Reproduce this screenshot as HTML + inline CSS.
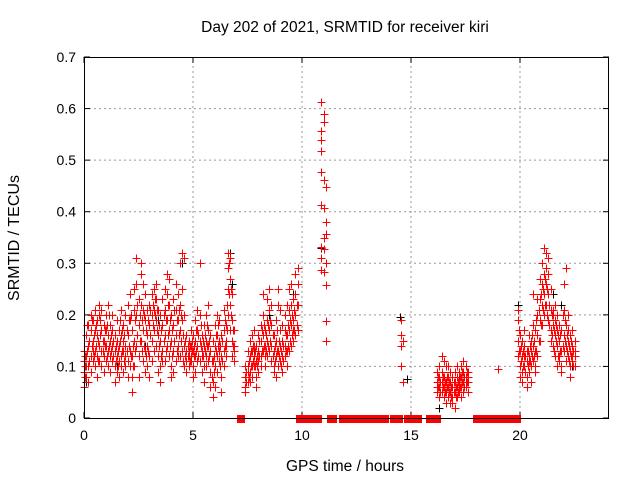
<!DOCTYPE html>
<html><head><meta charset="utf-8"><style>
html,body{margin:0;padding:0;background:#fff;}
svg{display:block;font-family:"Liberation Sans",sans-serif;}
</style></head><body>
<svg id="chart" width="640" height="480" viewBox="0 0 640 480" xmlns="http://www.w3.org/2000/svg">
<rect width="640" height="480" fill="#fff"/>
<text x="345" y="32" font-size="15.5" text-anchor="middle">Day 202 of 2021, SRMTID for receiver kiri</text>
<text x="345" y="471" font-size="15.5" text-anchor="middle">GPS time / hours</text>
<text x="19" y="238" font-size="16" text-anchor="middle" transform="rotate(-90 19 238)">SRMTID / TECUs</text>
<g id="grid"></g><g id="axes"></g><g id="marks" shape-rendering="crispEdges"></g>
<rect x="84.5" y="57.5" width="524" height="361" fill="none" stroke="#000" stroke-width="1" shape-rendering="crispEdges"/>
</svg>
<script>
const xTicks=[0,5,10,15,20];
const yTicks=[0,0.1,0.2,0.3,0.4,0.5,0.6,0.7];
const yTickLabels=["0","0.1","0.2","0.3","0.4","0.5","0.6","0.7"];
const zeroRanges=[[7.18,7.2],[9.93,10.75],[11.31,11.44],[11.9,13.83],[14.2,14.47],[14.84,15.34],[15.85,16.17],[18.05,18.46],[18.83,19.38],[19.43,19.84]];
const redRows=[
[0.0,0.09,0.11,0.06,0.13],[0.05,0.1,0.08,0.12],[0.1,0.08,0.12,0.16,0.1],[0.15,0.13,0.18],[0.2,0.14,0.18,0.1,0.07],[0.25,0.11,0.15],[0.3,0.12,0.17,0.2,0.09],[0.35,0.14,0.19],[0.4,0.15,0.11,0.19,0.13],
[0.45,0.12,0.16],[0.5,0.1,0.13,0.17,0.21],[0.55,0.14,0.18],[0.6,0.12,0.16,0.08,0.19],[0.65,0.11,0.15],[0.7,0.14,0.2,0.11,0.22],[0.75,0.16,0.19],[0.8,0.17,0.13,0.21,0.1],[0.85,0.13,0.15],[0.9,0.12,0.15,0.18,0.09],
[0.95,0.14,0.17],[1.0,0.11,0.14,0.2,0.17],[1.05,0.12,0.18],[1.1,0.13,0.16,0.22,0.1],[1.15,0.14,0.2],[1.2,0.09,0.15,0.12,0.18],[1.25,0.13,0.16],[1.3,0.14,0.17,0.11,0.2],[1.35,0.12,0.15],[1.4,0.1,0.13,0.16,0.07],
[1.45,0.11,0.14],[1.5,0.12,0.15,0.19,0.09],[1.55,0.1,0.13],[1.6,0.08,0.11,0.14,0.17],[1.65,0.15,0.19],[1.7,0.12,0.16,0.21,0.1],[1.75,0.13,0.17],[1.8,0.13,0.18,0.09,0.15],[1.85,0.11,0.16],[1.9,0.1,0.14,0.2,0.12],
[1.95,0.13,0.17],[2.0,0.11,0.16,0.22,0.08],[2.05,0.14,0.19],[2.1,0.13,0.19,0.24,0.1],[2.15,0.12,0.2],[2.2,0.08,0.12,0.17,0.05],[2.25,0.1,0.14],[2.3,0.1,0.15,0.21,0.25],[2.35,0.13,0.19],[2.4,0.14,0.2,0.26,0.31],
[2.45,0.16,0.22],[2.5,0.12,0.18,0.23,0.08],[2.55,0.15,0.2],[2.6,0.15,0.22,0.28,0.3],[2.65,0.13,0.19],[2.7,0.11,0.17,0.21,0.26],[2.75,0.14,0.2],[2.8,0.13,0.19,0.09,0.24],[2.85,0.12,0.17],[2.9,0.1,0.16,0.21,0.14],
[2.95,0.13,0.19],[3.0,0.12,0.18,0.22,0.08],[3.05,0.16,0.21],[3.1,0.15,0.2,0.24,0.11],[3.15,0.18,0.22],[3.2,0.17,0.21,0.25,0.13],[3.25,0.2,0.23],[3.3,0.14,0.19,0.23,0.26],[3.35,0.17,0.21],[3.4,0.12,0.16,0.21,0.09],
[3.45,0.14,0.18],[3.5,0.1,0.15,0.2,0.07],[3.55,0.12,0.17],[3.6,0.13,0.18,0.23,0.11],[3.65,0.15,0.2],[3.7,0.11,0.16,0.21,0.25],[3.75,0.13,0.19],[3.8,0.14,0.19,0.24,0.28],[3.85,0.16,0.22],[3.9,0.12,0.17,0.22,0.27],
[3.95,0.14,0.19],[4.0,0.1,0.15,0.2,0.08],[4.05,0.12,0.17],[4.1,0.13,0.18,0.23,0.09],[4.15,0.15,0.21],[4.2,0.11,0.16,0.21,0.26],[4.25,0.13,0.19],[4.3,0.14,0.19,0.24,0.12],[4.35,0.16,0.21],[4.4,0.12,0.17,0.22,0.3],
[4.45,0.15,0.2],[4.5,0.13,0.19,0.25,0.32],[4.55,0.11,0.16],[4.6,0.1,0.14,0.2,0.31],[4.65,0.12,0.15],[4.7,0.11,0.13,0.16,0.09],[4.75,0.14,0.12],[4.8,0.1,0.12,0.15,0.13],[4.85,0.11,0.14],[4.9,0.12,0.14,0.17,0.11],
[4.95,0.13,0.15],[5.0,0.1,0.13,0.16,0.08],[5.05,0.12,0.14],[5.1,0.12,0.15,0.19,0.09],[5.15,0.13,0.17],[5.2,0.14,0.17,0.21,0.11],[5.25,0.12,0.16],[5.3,0.11,0.15,0.2,0.3],[5.35,0.14,0.18],[5.4,0.13,0.16,0.12,0.09],
[5.45,0.12,0.15],[5.5,0.1,0.14,0.18,0.07],[5.55,0.13,0.16],[5.6,0.12,0.15,0.2,0.1],[5.65,0.14,0.18],[5.7,0.14,0.17,0.22,0.11],[5.75,0.12,0.15],[5.8,0.09,0.13,0.16,0.06],[5.85,0.08,0.11],[5.9,0.07,0.11,0.15,0.04],
[5.95,0.09,0.12],[6.0,0.1,0.14,0.18,0.06],[6.05,0.13,0.16],[6.1,0.12,0.16,0.2,0.09],[6.15,0.14,0.18],[6.2,0.11,0.15,0.19,0.13],[6.25,0.1,0.14],[6.3,0.08,0.12,0.16,0.05],[6.35,0.11,0.15],[6.4,0.13,0.17,0.21,0.1],
[6.45,0.14,0.19],[6.5,0.12,0.15,0.18,0.14],[6.55,0.17,0.22],[6.6,0.2,0.25,0.29,0.32],[6.65,0.24,0.3],[6.7,0.17,0.22,0.27,0.31],[6.75,0.2,0.25],[6.8,0.12,0.15,0.19,0.24],[6.85,0.14,0.17],[6.9,0.11,0.14,0.17,0.13],
[7.4,0.06,0.08,0.1,0.05],[7.45,0.07,0.09],[7.5,0.07,0.1,0.13,0.09],[7.55,0.08,0.11],[7.6,0.09,0.12,0.15,0.07],[7.65,0.1,0.13],[7.7,0.1,0.13,0.16,0.08],[7.75,0.11,0.14],[7.8,0.12,0.14,0.17,0.1],
[7.85,0.1,0.13],[7.9,0.08,0.11,0.14,0.06],[7.95,0.1,0.12],[8.0,0.11,0.13,0.16,0.09],[8.05,0.12,0.15],[8.1,0.12,0.15,0.18,0.1],[8.15,0.13,0.17],[8.2,0.13,0.16,0.2,0.24],[8.25,0.14,0.18],[8.3,0.1,0.14,0.17,0.12],
[8.35,0.13,0.16],[8.4,0.12,0.15,0.19,0.23],[8.45,0.14,0.18],[8.5,0.13,0.17,0.21,0.25],[8.55,0.15,0.19],[8.6,0.11,0.14,0.18,0.22],[8.65,0.12,0.16],[8.7,0.1,0.13,0.16,0.09],[8.75,0.11,0.14],[8.8,0.12,0.15,0.19,0.08],
[8.85,0.13,0.17],[8.9,0.1,0.13,0.22,0.25],[8.95,0.12,0.15],[9.0,0.11,0.14,0.17,0.21],[9.05,0.1,0.13],[9.1,0.09,0.12,0.15,0.18],[9.15,0.11,0.14],[9.2,0.12,0.14,0.17,0.2],[9.25,0.13,0.16],[9.3,0.1,0.13,0.16,0.22],
[9.35,0.14,0.18],[9.4,0.13,0.17,0.21,0.25],[9.45,0.15,0.19],[9.5,0.14,0.18,0.22,0.26],[9.55,0.16,0.2],[9.6,0.15,0.19,0.23,0.17],[9.65,0.17,0.21],[9.7,0.16,0.2,0.24,0.28],[9.75,0.18,0.22],[9.8,0.17,0.22,0.26,0.29],
[10.88,0.612,0.556,0.54,0.517,0.477,0.413,0.331,0.31,0.287],[11.0,0.589,0.574,0.461,0.407,0.35,0.327,0.283],[11.08,0.448,0.38,0.357,0.3,0.258,0.188,0.149],
[14.55,0.19,0.16,0.14,0.1],[14.65,0.15,0.07],
[16.2,0.05,0.07,0.09,0.06],[16.25,0.06,0.08],[16.3,0.04,0.06,0.08,0.1],[16.35,0.05,0.07],[16.4,0.05,0.07,0.09,0.12],[16.45,0.06,0.08],[16.5,0.06,0.08,0.11,0.04],[16.55,0.05,0.07],[16.6,0.05,0.07,0.1,0.03],
[16.65,0.06,0.08],[16.7,0.04,0.06,0.08,0.1],[16.75,0.05,0.07],[16.8,0.03,0.05,0.07,0.09],[16.85,0.04,0.06],[16.9,0.04,0.06,0.08,0.03],[16.95,0.05,0.07],[17.0,0.05,0.07,0.09,0.02],[17.05,0.04,0.06],[17.1,0.04,0.06,0.08,0.1],
[17.15,0.05,0.07],[17.2,0.05,0.07,0.09,0.06],[17.25,0.06,0.08],[17.3,0.06,0.08,0.1,0.04],[17.35,0.07,0.09],[17.4,0.05,0.07,0.09,0.11],[17.45,0.06,0.08],[17.5,0.06,0.08,0.1,0.07],[17.55,0.07,0.09],[17.6,0.05,0.07,0.09,0.08],
[19.0,0.095],
[19.9,0.12,0.15,0.19,0.21],[19.95,0.13,0.17],[20.0,0.1,0.13,0.16,0.08],[20.05,0.11,0.14],[20.1,0.09,0.12,0.15,0.07],[20.15,0.1,0.13],[20.2,0.1,0.14,0.17,0.12],[20.25,0.09,0.12],[20.3,0.08,0.11,0.13,0.06],
[20.35,0.1,0.13],[20.4,0.09,0.12,0.16,0.11],[20.45,0.11,0.14],[20.5,0.1,0.13,0.15,0.07],[20.55,0.12,0.16],[20.6,0.11,0.14,0.18,0.24],[20.65,0.12,0.15],[20.7,0.1,0.13,0.17,0.09],[20.75,0.13,0.19],[20.8,0.12,0.16,0.2,0.23],
[20.85,0.15,0.21],[20.9,0.15,0.19,0.23,0.27],[20.95,0.18,0.24],[21.0,0.18,0.22,0.26,0.3],[21.05,0.21,0.25],[21.1,0.2,0.24,0.28,0.33],[21.15,0.22,0.27],[21.2,0.22,0.26,0.29,0.32],[21.25,0.2,0.25],[21.3,0.19,0.24,0.28,0.31],
[21.35,0.18,0.22],[21.4,0.17,0.21,0.25,0.15],[21.45,0.16,0.2],[21.5,0.14,0.18,0.21,0.2],[21.55,0.13,0.17],[21.6,0.12,0.16,0.19,0.22],[21.65,0.15,0.18],[21.7,0.14,0.17,0.2,0.1],[21.75,0.12,0.16],[21.8,0.11,0.15,0.18,0.12],
[21.85,0.13,0.16],[21.9,0.1,0.13,0.17,0.09],[21.95,0.14,0.2],[22.0,0.13,0.16,0.21,0.26],[22.05,0.15,0.19],[22.1,0.11,0.14,0.18,0.29],[22.15,0.13,0.16],[22.2,0.12,0.15,0.17,0.2],[22.25,0.11,0.14],[22.3,0.1,0.13,0.16,0.08],
[22.35,0.12,0.15],[22.4,0.11,0.14,0.17,0.12],[22.45,0.1,0.13],[22.5,0.1,0.12,0.15,0.13]
];
const blackRows=[
[0.1,0.07],[0.6,0.08],[1.5,0.1],[2.8,0.14],[3.4,0.19],[4.5,0.3],[5.4,0.13],[6.2,0.15],[6.7,0.32],[6.8,0.26],[7.8,0.13],[8.5,0.2],[9.6,0.24],
[10.85,0.33],[11.1,0.3],[14.5,0.195],[14.8,0.075],[16.3,0.02],[17.2,0.08],[19.9,0.22],[20.4,0.12],[21.0,0.26],[21.5,0.24],[21.9,0.22],[22.4,0.1]
];
const NS="http://www.w3.org/2000/svg";
const X0=84,X1=609,Y0=418,Y1=57,XMAX=(X1-X0)/21.8,YMAX=0.7;
function xs(t){return X0+t/XMAX*(X1-X0);}
function ys(v){return Y0-v/YMAX*(Y0-Y1);}
function mk(tag,attrs,parent){const e=document.createElementNS(NS,tag);for(const k in attrs)e.setAttribute(k,attrs[k]);parent.appendChild(e);return e;}
const grid=document.getElementById('grid'),axes=document.getElementById('axes'),marks=document.getElementById('marks');
yTicks.forEach((v,i)=>{const y=ys(v);
 if(v>0&&v<YMAX){const g=mk('line',{x1:X0,x2:X1,y1:y,y2:y,stroke:'#999','stroke-dasharray':'2,3'},grid);
 
 }
 mk('line',{x1:X0,x2:X0+6,y1:y,y2:y,stroke:'#000'},axes);mk('line',{x1:X1,x2:X1-6,y1:y,y2:y,stroke:'#000'},axes);
 const t=mk('text',{x:X0-8,y:y+5,'font-size':14,'text-anchor':'end'},axes);t.textContent=yTickLabels[i];
 
 
});
xTicks.forEach(v=>{const x=xs(v);
 if(v>0){const g=mk('line',{x1:x,x2:x,y1:Y0,y2:Y1,stroke:'#999','stroke-dasharray':'2,3'},grid);
 
 }
 mk('line',{x1:x,x2:x,y1:Y0,y2:Y0-6,stroke:'#000'},axes);mk('line',{x1:x,x2:x,y1:Y1,y2:Y1+6,stroke:'#000'},axes);
 const t=mk('text',{x:x,y:Y0+22,'font-size':14,'text-anchor':'middle'},axes);t.textContent=String(v);
 
 
});
function plus(t,v,c,name){const x=Math.round(xs(t))+0.5,y=Math.round(ys(v))+0.5;
 const p=mk('path',{d:`M${x-4},${y}h8M${x},${y-4}v8`,stroke:c,'stroke-width':1,fill:'none'},marks);
 
 }
blackRows.forEach(r=>{for(let i=1;i<r.length;i++)plus(r[0],r[i],'#000','black-point');});
redRows.forEach(r=>{for(let i=1;i<r.length;i++)plus(r[0],r[i],'#f00','red-point');});
zeroRanges.forEach(r=>{const a=Math.round(xs(r[0])-4),b=Math.round(xs(r[1])+4);
 const z=mk('rect',{x:a,y:Math.round(ys(0))-3,width:b-a,height:8,fill:'#f00'},marks);
 
 });
</script>
</body></html>
